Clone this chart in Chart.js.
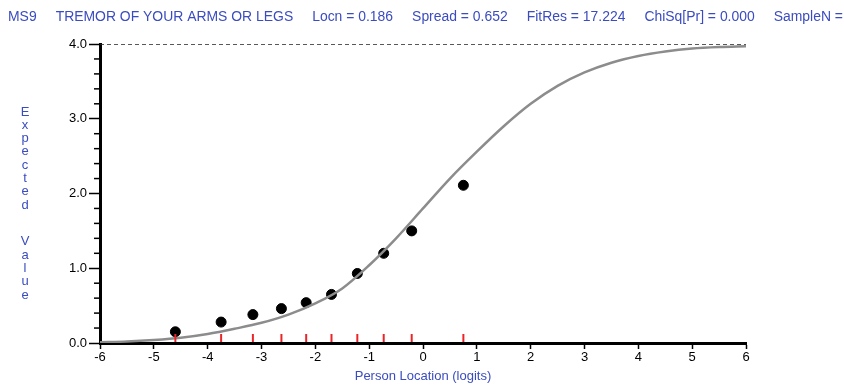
<!DOCTYPE html>
<html>
<head>
<meta charset="utf-8">
<script src="https://cdn.jsdelivr.net/npm/chart.js@4"></script>
<style>
  html, body { margin: 0; padding: 0; background: #fff; }
  #wrap { width: 844px; height: 386px; position: relative; }
</style>
</head>
<body>
<div id="wrap"><canvas id="icc" width="844" height="386"></canvas></div>
<script>
// expected value curve
const curveX = [-6, -5.5, -5, -4.5, -4, -3.5, -3, -2.5, -2, -1.5, -1, -0.5, 0, 0.5, 1, 1.5, 2, 2.5, 3, 3.5, 4, 4.5, 5, 5.5, 6];
const curveY = [0.01, 0.02, 0.04, 0.07, 0.12, 0.19, 0.27, 0.38, 0.53, 0.73, 1.04, 1.40, 1.80, 2.20, 2.56, 2.90, 3.20, 3.44, 3.62, 3.75, 3.84, 3.90, 3.94, 3.96, 3.97];

// observed class means
const obsX = [-4.60, -3.75, -3.16, -2.63, -2.17, -1.70, -1.22, -0.73, -0.21, 0.75];
const obsY = [0.15, 0.28, 0.38, 0.46, 0.54, 0.65, 0.93, 1.20, 1.50, 2.11];

// max score reference line
const maxX = [-6, 6];
const maxY = [4, 4];

const xTicks = [-6, -5, -4, -3, -2, -1, 0, 1, 2, 3, 4, 5, 6];
const yTicks = [0, 1, 2, 3, 4];

const headerParts = ['MS9', 'TREMOR OF YOUR ARMS OR LEGS', 'Locn = 0.186', 'Spread = 0.652', 'FitRes = 17.224', 'ChiSq[Pr] = 0.000', 'SampleN ='];
const yTitle = 'Expected Value';

const blue = '#3a4cc0';
const font = '"Liberation Sans", Arial, sans-serif';

const ctx = document.getElementById('icc').getContext('2d');

// minor y ticks, red class ticks, header and stacked y title
const extras = {
    id: 'extras',
    afterDatasetsDraw(chart) {
        const c = chart.ctx;
        const xs = chart.scales.x, ys = chart.scales.y;
        const left = chart.chartArea.left;
        c.save();
        // minor ticks every 0.2
        c.strokeStyle = '#000';
        c.lineWidth = 1.5;
        for (let i = 1; i < 20; i++) {
            if (i % 5 === 0) continue;
            const py = ys.getPixelForValue(i * 0.2);
            c.beginPath();
            c.moveTo(left - 6, py);
            c.lineTo(left, py);
            c.stroke();
        }
        // red class interval marks
        c.strokeStyle = '#e8262a';
        c.lineWidth = 2;
        const base = ys.getPixelForValue(0);
        obsX.forEach(function(v) {
            const px = xs.getPixelForValue(v);
            c.beginPath();
            c.moveTo(px, base - 9);
            c.lineTo(px, base - 1);
            c.stroke();
        });
        // header: one condensed line from x=8 to the right edge
        c.fillStyle = blue;
        c.font = '14px ' + font;
        c.textBaseline = 'middle';
        const gap = 19;
        const widths = headerParts.map(t => c.measureText(t).width);
        const total = widths.reduce((a, b) => a + b, 0);
        const sx = (835 - gap * (headerParts.length - 1)) / total;
        let hx = 8;
        headerParts.forEach(function(t, i) {
            c.save();
            c.translate(hx, 17);
            c.scale(sx, 1);
            c.fillText(t, 0, 0);
            c.restore();
            hx += widths[i] * sx + gap;
        });
        // stacked y title
        c.font = '13px ' + font;
        c.textAlign = 'center';
        let y = 112;
        for (const ch of yTitle) {
            if (ch === ' ') { y += 23.5; continue; }
            c.fillText(ch, 25, y);
            y += 13.3;
        }
        c.restore();
    }
};

new Chart(ctx, {
    type: 'scatter',
    data: {
        datasets: [{
            type: 'line',
            data: maxX.map((x, i) => ({ x: x, y: maxY[i] })),
            borderColor: '#222',
            borderWidth: 1.5,
            borderDash: [4, 3],
            pointRadius: 0,
            fill: false
        }, {
            type: 'line',
            data: curveX.map((x, i) => ({ x: x, y: curveY[i] })),
            borderColor: '#8c8c8c',
            borderWidth: 2.5,
            pointRadius: 0,
            cubicInterpolationMode: 'monotone',
            fill: false
        }, {
            data: obsX.map((x, i) => ({ x: x, y: obsY[i] })),
            backgroundColor: '#000',
            borderColor: '#000',
            pointRadius: 5
        }]
    },
    options: {
        responsive: false,
        animation: false,
        layout: { padding: { left: 60, right: 98, top: 44, bottom: 0 } },
        plugins: {
            legend: { display: false },
            tooltip: { enabled: false }
        },
        scales: {
            x: {
                type: 'linear',
                min: -6,
                max: 6,
                afterFit: s => { s.height = 43; },
                afterBuildTicks: s => { s.ticks = xTicks.map(v => ({ value: v })); },
                ticks: {
                    color: '#000',
                    font: { size: 13, family: font },
                    padding: 1,
                    maxRotation: 0,
                    autoSkip: false
                },
                grid: { drawOnChartArea: false, tickLength: 6, tickColor: '#000', tickWidth: 1.5 },
                border: { color: '#000', width: 3 },
                title: {
                    display: true,
                    text: 'Person Location (logits)',
                    color: blue,
                    font: { size: 13, family: font },
                    padding: { top: 0, bottom: 2 }
                }
            },
            y: {
                min: 0,
                max: 4,
                afterFit: s => { s.width = 40; },
                afterBuildTicks: s => { s.ticks = yTicks.map(v => ({ value: v })); },
                ticks: {
                    color: '#000',
                    font: { size: 13, family: font },
                    padding: 2,
                    autoSkip: false,
                    callback: v => v.toFixed(1)
                },
                grid: { drawOnChartArea: false, tickLength: 11, tickColor: '#000', tickWidth: 1.5 },
                border: { color: '#000', width: 3 }
            }
        }
    },
    plugins: [extras]
});
</script>
</body>
</html>
